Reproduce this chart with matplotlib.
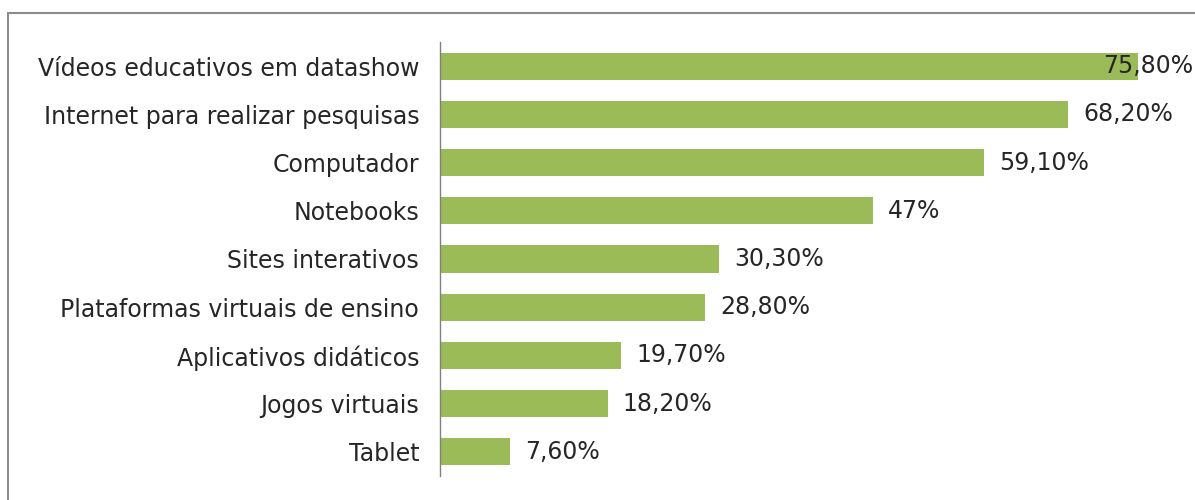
import matplotlib
matplotlib.use("Agg")
import matplotlib.pyplot as plt
from matplotlib.patches import Rectangle

categories = [
    "Vídeos educativos em datashow",
    "Internet para realizar pesquisas",
    "Computador",
    "Notebooks",
    "Sites interativos",
    "Plataformas virtuais de ensino",
    "Aplicativos didáticos",
    "Jogos virtuais",
    "Tablet",
]
values = [75.8, 68.2, 59.1, 47.0, 30.3, 28.8, 19.7, 18.2, 7.6]
value_labels = ["75,80%", "68,20%", "59,10%", "47%", "30,30%", "28,80%",
                "19,70%", "18,20%", "7,60%"]

W, H = 1195, 500
fig = plt.figure(figsize=(W / 100, H / 100), dpi=100)
fig.patch.set_facecolor("white")

# outer frame (top and left visible)
fig.patches.append(Rectangle((8 / W, -0.1), 1.2, 1.1 - 13 / H,
                             transform=fig.transFigure, fill=False,
                             edgecolor="#8c8c8c", linewidth=1.5, zorder=0))

ax = fig.add_axes([440 / W, 1 - 476 / H, (W - 440) / W, (476 - 42) / H])
green = "#9BBB59"
text_color = "#262626"
fs = 17
ypos = list(range(len(categories)))
ax.barh(ypos, values, height=0.56, color=green, zorder=2)
ax.set_xlim(0, 82)
ax.set_ylim(len(categories) - 0.5, -0.5)

ax.set_yticks(ypos)
ax.set_yticklabels(categories, fontsize=fs, color=text_color)
ax.tick_params(axis="y", length=0, pad=15)
ax.set_xticks([])
for s in ["top", "right", "bottom"]:
    ax.spines[s].set_visible(False)
ax.spines["left"].set_color("#808080")
ax.spines["left"].set_linewidth(1.0)

xmax = ax.get_xlim()[1]
for y, v, lab in zip(ypos, values, value_labels):
    if v + 12 > xmax:
        ax.annotate(lab, xy=(1.0, y), xycoords=("axes fraction", "data"),
                    xytext=(-1, 0), textcoords="offset points",
                    ha="right", va="center", fontsize=fs, color=text_color,
                    zorder=3, annotation_clip=False)
    else:
        ax.annotate(lab, xy=(v, y), xytext=(11, 0), textcoords="offset points",
                    ha="left", va="center", fontsize=fs, color=text_color,
                    zorder=3)

fig.savefig("out.png", dpi=100, facecolor="white")
